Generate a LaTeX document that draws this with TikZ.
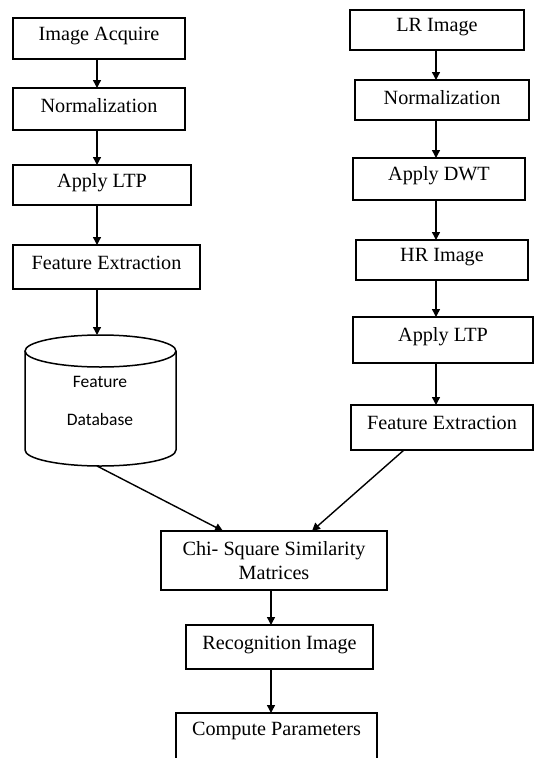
\documentclass[tikz,border=0pt]{standalone}
\usepackage{fontspec}
\setmainfont{Liberation Serif}
\newfontfamily\boxfont{Liberation Serif}
\newfontfamily\dbfont{Carlito}
\usetikzlibrary{arrows.meta}
\begin{document}
\begin{tikzpicture}[x=1pt,y=-1pt,
  box/.style={draw, line width=1.5pt, inner sep=0pt, outer sep=0pt},
  lbl/.style={font=\boxfont\fontsize{20.2}{24}\selectfont, inner sep=0pt, align=center},
  dbtxt/.style={font=\dbfont\fontsize{17.5}{38}\selectfont, inner sep=0pt, align=center},
  arr/.style={line width=1.4pt, -{Triangle[width=8pt,length=8pt]}}]
\useasboundingbox (0,0) rectangle (534,758);

% left branch
\node[box, minimum width=172pt, minimum height=41pt,
  label={[lbl,yshift=3pt]center:Image Acquire}] (ia) at (99,38.5) {};
\node[box, minimum width=172pt, minimum height=42pt,
  label={[lbl,yshift=3.5pt]center:Normalization}] (n1) at (99,109) {};
\node[box, minimum width=178pt, minimum height=40pt,
  label={[lbl,yshift=2.5pt]center:Apply LTP}] (ltp1) at (102,185) {};
\node[box, minimum width=187pt, minimum height=44pt,
  label={[lbl,yshift=4.5pt]center:Feature Extraction}] (fe1) at (106.5,267) {};

% feature database cylinder
\draw[box] (25,351) -- (25,450) arc[start angle=180, end angle=360, x radius=75.5pt, y radius=16pt] -- (176,351);
\draw[box] (100.5,351) ellipse [x radius=75.5pt, y radius=16pt];
\node[dbtxt] (dbtext) at (100,401) {Feature\\Database};
\coordinate (dbtop) at (97,335);
\coordinate (dbbot) at (97,466);

% right branch
\node[box, minimum width=174pt, minimum height=40pt,
  label={[lbl,yshift=2.5pt]center:LR Image}] (lr) at (437,30) {};
\node[box, minimum width=174pt, minimum height=40pt,
  label={[lbl,yshift=2.5pt]center:Normalization}] (n2) at (442,100) {};
\node[box, minimum width=172pt, minimum height=42pt,
  label={[lbl,yshift=3.5pt]center:Apply DWT}] (dwt) at (439,179) {};
\node[box, minimum width=172pt, minimum height=40pt,
  label={[lbl,yshift=2.5pt]center:HR Image}] (hr) at (442,260) {};
\node[box, minimum width=180pt, minimum height=46pt,
  label={[lbl,yshift=3.5pt]center:Apply LTP}] (ltp2) at (443,340) {};
\node[box, minimum width=182pt, minimum height=45pt,
  label={[lbl,yshift=5pt]center:Feature Extraction}] (fe2) at (442,427.5) {};

% merged part
\node[box, minimum width=226pt, minimum height=59pt,
  label={[lbl,yshift=0pt]center:{Chi- Square Similarity\\Matrices}}] (chi) at (274,560.5) {};
\node[box, minimum width=187pt, minimum height=44pt,
  label={[lbl,yshift=2.5pt]center:Recognition Image}] (rec) at (279.5,647) {};
\node[box, minimum width=201pt, minimum height=62pt,
  label={[lbl,yshift=13.5pt]center:Compute Parameters}] (cp) at (276.5,744) {};

% connector columns
\coordinate (colL) at (97,0);
\coordinate (colR) at (436,0);
\coordinate (colM) at (271,0);
\coordinate (inL) at (223,0);
\coordinate (inR) at (312,0);
\coordinate (outR) at (404,0);

\draw[arr] (ia.south -| colL) -- (n1.north -| colL);
\draw[arr] (n1.south -| colL) -- (ltp1.north -| colL);
\draw[arr] (ltp1.south -| colL) -- (fe1.north -| colL);
\draw[arr] (fe1.south -| colL) -- (dbtop);

\draw[arr] (lr.south -| colR) -- (n2.north -| colR);
\draw[arr] (n2.south -| colR) -- (dwt.north -| colR);
\draw[arr] (dwt.south -| colR) -- (hr.north -| colR);
\draw[arr] (hr.south -| colR) -- (ltp2.north -| colR);
\draw[arr] (ltp2.south -| colR) -- (fe2.north -| colR);

\draw[arr] (dbbot) -- (chi.north -| inL);
\draw[arr] (fe2.south -| outR) -- (chi.north -| inR);

\draw[arr] (chi.south -| colM) -- (rec.north -| colM);
\draw[arr] (rec.south -| colM) -- (cp.north -| colM);
\end{tikzpicture}
\end{document}
